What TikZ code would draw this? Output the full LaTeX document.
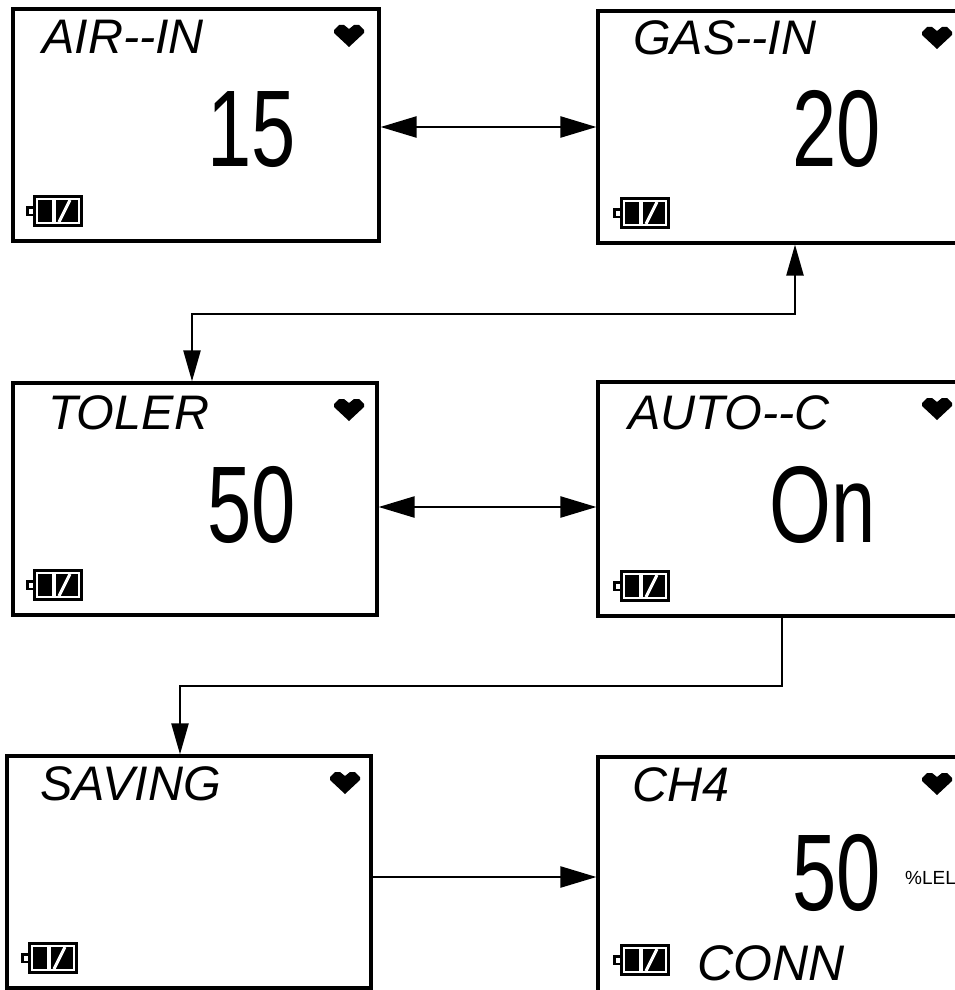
\documentclass[tikz,border=0pt]{standalone}
\usepackage{fontspec}
\setmainfont{Liberation Sans}
\usepackage{graphicx}
\usetikzlibrary{arrows.meta}
\tikzset{
  scr/.style={draw, line width=3.2pt, inner sep=0pt, outer sep=1.6pt},
  ttl/.style={inner sep=0pt, anchor=base west, font=\fontsize{48.5}{48.5}\selectfont\itshape},
  big/.style={inner sep=0pt, anchor=base east, font=\fontsize{109}{109}\selectfont},
  small/.style={inner sep=0pt, anchor=base west, font=\fontsize{19}{19}\selectfont},
  conn/.style={line width=2.4pt},
  harr/.style={conn, {Triangle[length=36pt,width=21pt]}-{Triangle[length=36pt,width=21pt]}},
  varr/.style={conn, {Triangle[length=31pt,width=17pt]}-{Triangle[length=31pt,width=17pt]}},
  heart/.pic={\fill (-15,5) -- (-10,0) -- (-5,0) -- (0,4) -- (5,0) -- (10,0) -- (15,5) -- (15,8) -- (0,22) -- (-15,8) -- cycle;},
  battery/.pic={
    \fill[black] (0,0) rectangle (50,32);
    \fill[white] (3,3) rectangle (47,29);
    \fill[black] (5,5) rectangle (45,27);
    \fill[white] (19,5) rectangle (23,27);
    \draw[white, line width=3pt] (26,27) -- (37,5);
    \fill[black] (-7,11) rectangle (0,21);
    \fill[white] (-4.5,13.5) rectangle (0,18.5);
  }
}
\newcommand{\bignum}[1]{\scalebox{0.73}[1]{#1}}
\begin{document}
\begin{tikzpicture}[x=1pt,y=-1pt]
\useasboundingbox (0,0) rectangle (955,990);
\clip (0,0) rectangle (955,990);
\fill[white] (0,0) rectangle (955,990);

% screens
\node[scr, minimum width=366pt, minimum height=232pt] (b1) at (196,125) {};
\node[scr, minimum width=377pt, minimum height=232pt] (b2) at (786.5,127) {};
\node[scr, minimum width=364pt, minimum height=232pt] (b3) at (195,499) {};
\node[scr, minimum width=377pt, minimum height=234pt] (b4) at (786.5,499) {};
\node[scr, minimum width=364pt, minimum height=232pt] (b5) at (189,872) {};
\node[scr, minimum width=377pt, minimum height=243pt] (b6) at (786.5,878.5) {};

% titles
\node[ttl] (t1) at (42,54) {AIR-{}-IN};
\node[ttl] (t2) at (633,55) {GAS-{}-IN};
\node[ttl] (t3) at (48,429) {TOLER};
\node[ttl] (t4) at (628,429) {AUTO-{}-C};
\node[ttl] (t5) at (40,800) {SAVING};
\node[ttl] (t6) at (632,801) {CH4};

% values
\node[big] (v1) at (296,166) {\bignum{15}};
\node[big] (v2) at (881,166) {\bignum{20}};
\node[big] (v3) at (296,542) {\bignum{50}};
\node[big] (v4) at (876,542) {\bignum{On}};
\node[big] (v6) at (881,910) {\bignum{50}};
\node[small] (u6) at (905,884) {\%LEL};
\node[ttl, font=\fontsize{50}{50}\selectfont\itshape] (c6) at (697,980) {CONN};

% hearts
\pic at (349,25) {heart};
\pic at (937,27) {heart};
\pic at (349,399) {heart};
\pic at (937,398) {heart};
\pic at (345,772) {heart};
\pic at (937,773) {heart};

% batteries
\pic at (33,195) {battery};
\pic at (620,197) {battery};
\pic at (33,569) {battery};
\pic at (620,570) {battery};
\pic at (28,942) {battery};
\pic at (620,944) {battery};

% connectors
\coordinate (m1) at (0,127);
\coordinate (m2) at (0,507);
\coordinate (m3) at (0,877);
\coordinate (j1) at (795,314);
\coordinate (j2) at (192,314);
\coordinate (k1) at (782,686);
\coordinate (k2) at (180,686);

\draw[harr] (b1.east |- m1) -- (b2.west |- m1);
\draw[varr] (b3.north -| j2) -- (j2) -- (j1) -- (j1 |- b2.south);
\draw[harr] (b3.east |- m2) -- (b4.west |- m2);
\draw[conn, -{Triangle[length=31pt,width=17pt]}] (b4.south -| k1) -- (k1) -- (k2) -- (k2 |- b5.north);
\draw[conn, -{Triangle[length=36pt,width=21pt]}] (b5.east |- m3) -- (b6.west |- m3);
\end{tikzpicture}
\end{document}
